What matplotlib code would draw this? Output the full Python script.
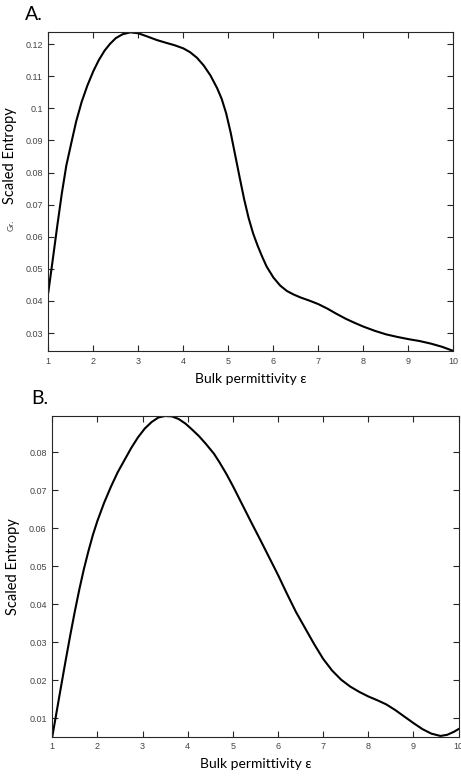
import matplotlib
matplotlib.use("Agg")
import matplotlib.pyplot as plt

# Panel A: scaled entropy vs bulk permittivity
eps_a = [1.00, 1.10, 1.20, 1.30, 1.40, 1.52, 1.62, 1.74, 1.87, 2.00, 2.12, 2.25,
         2.37, 2.50, 2.65, 2.82, 3.00, 3.20, 3.41, 3.60, 3.80, 4.00, 4.15, 4.30,
         4.45, 4.60, 4.75, 4.85, 4.95, 5.05, 5.15, 5.25, 5.35, 5.45, 5.55, 5.65,
         5.75, 5.85, 6.00, 6.15, 6.30, 6.45, 6.60, 6.80, 7.00, 7.20, 7.40, 7.60,
         7.80, 8.00, 8.25, 8.50, 8.75, 9.00, 9.25, 9.50, 9.75, 10.0]
ent_a = [0.0427, 0.0530, 0.0635, 0.0735, 0.0822, 0.0898, 0.0960, 0.1020, 0.1072,
         0.1116, 0.1150, 0.1180, 0.1201, 0.1219, 0.1231, 0.1237, 0.1234, 0.1224,
         0.1213, 0.1205, 0.1197, 0.1187, 0.1175, 0.1158, 0.1134, 0.1103, 0.1063,
         0.1030, 0.0985, 0.0925, 0.0855, 0.0785, 0.0717, 0.0658, 0.0610, 0.0572,
         0.0538, 0.0507, 0.0473, 0.0448, 0.0431, 0.0420, 0.0411, 0.0401, 0.0390,
         0.0376, 0.0360, 0.0345, 0.0332, 0.0320, 0.0307, 0.0296, 0.0288, 0.0281,
         0.0275, 0.0267, 0.0257, 0.0244]

# Panel B
eps_b = [1.00, 1.10, 1.20, 1.30, 1.40, 1.50, 1.60, 1.70, 1.80, 1.90, 2.00, 2.15,
         2.30, 2.45, 2.60, 2.75, 2.90, 3.05, 3.20, 3.35, 3.50, 3.65, 3.80, 3.95,
         4.10, 4.25, 4.40, 4.58, 4.70, 4.85, 5.00, 5.20, 5.40, 5.60, 5.80, 6.00,
         6.20, 6.40, 6.60, 6.80, 7.00, 7.20, 7.40, 7.60, 7.80, 8.00, 8.20, 8.40,
         8.60, 8.80, 9.00, 9.20, 9.40, 9.60, 9.75, 9.90, 10.0]
ent_b = [0.0052, 0.0120, 0.0188, 0.0255, 0.0320, 0.0382, 0.0440, 0.0493, 0.0540,
         0.0583, 0.0620, 0.0668, 0.0710, 0.0748, 0.0780, 0.0812, 0.0840, 0.0863,
         0.0880, 0.0892, 0.0896, 0.0895, 0.0888, 0.0876, 0.0860, 0.0843, 0.0823,
         0.0797, 0.0775, 0.0745, 0.0712, 0.0665, 0.0618, 0.0572, 0.0525, 0.0478,
         0.0428, 0.0380, 0.0338, 0.0296, 0.0257, 0.0226, 0.0202, 0.0184, 0.0170,
         0.0158, 0.0148, 0.0137, 0.0122, 0.0105, 0.0088, 0.0072, 0.0060, 0.0054,
         0.0057, 0.0065, 0.0072]

xticks = list(range(1, 11))
yticks_a = [0.03, 0.04, 0.05, 0.06, 0.07, 0.08, 0.09, 0.1, 0.11, 0.12]
yticks_b = [0.01, 0.02, 0.03, 0.04, 0.05, 0.06, 0.07, 0.08]

label_font = ["Lato", "DejaVu Sans"]
tick_font = "Liberation Sans"

fig = plt.figure(figsize=(4.61, 7.79), dpi=100)
ax_a = fig.add_axes([0.1048, 0.5494, 0.8789, 0.4091])
ax_b = fig.add_axes([0.1134, 0.0543, 0.8812, 0.4117])


def style(ax, x, y, yticks):
    ax.plot(x, y, color="black", lw=1.5, solid_joinstyle="round")
    ax.set_xlim(1, 10)
    ax.set_ylim(min(y), max(y))
    ax.set_xticks(xticks)
    ax.set_xticklabels([str(t) for t in xticks])
    ax.set_yticks(yticks)
    ax.set_yticklabels([f"{t:g}" for t in yticks])
    ax.tick_params(direction="in", length=4, width=0.8, top=True, right=True,
                   labelsize=6.5, labelcolor="#444444", color="#262626", pad=4)
    for lbl in ax.get_xticklabels() + ax.get_yticklabels():
        lbl.set_family(tick_font)
    for sp in ax.spines.values():
        sp.set_color("#262626")
        sp.set_linewidth(0.8)
    ax.set_xlabel("Bulk permittivity ε", family=label_font, fontsize=10, labelpad=5)


style(ax_a, eps_a, ent_a, yticks_a)
style(ax_b, eps_b, ent_b, yticks_b)

# y labels
fig.text(0.022, 1 - 156 / 779, "Scaled Entropy", rotation=90, ha="center",
         va="center", family=label_font, fontsize=10.5)
fig.text(0.024, 1 - 225 / 779, "Gr.", rotation=90, ha="center", va="center",
         family=label_font, fontsize=6, color="#444444")
fig.text(0.028, 1 - 567 / 779, "Scaled Entropy", rotation=90, ha="center",
         va="center", family=label_font, fontsize=10.5)

# panel letters
fig.text(0.054, 1 - 14 / 779, "A.", ha="left", va="center", family=label_font,
         fontsize=14)
fig.text(0.067, 1 - 398 / 779, "B.", ha="left", va="center", family=label_font,
         fontsize=14)

fig.savefig("out.png", dpi=100)
